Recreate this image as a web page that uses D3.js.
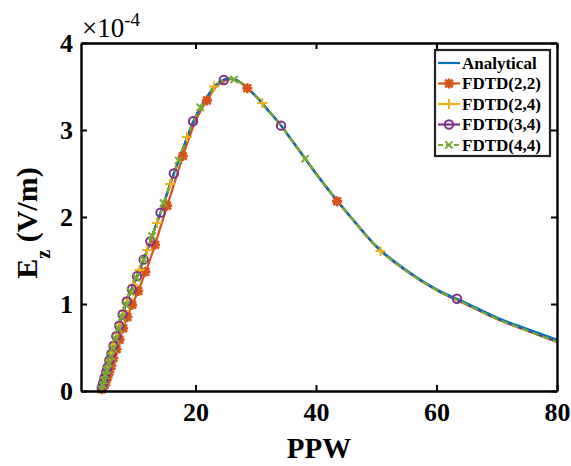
<!DOCTYPE html>
<meta charset="utf-8">
<body style="margin:0;background:#fff">
<script src="https://cdn.jsdelivr.net/npm/d3@7"></script>
<script>

    var W = 571, H = 466,
        m = {top: 43, right: 14, bottom: 75, left: 81},
        w = W - m.left - m.right,
        h = H - m.top - m.bottom;

    // Ez values are in units of 1e-4 V/m
    var ppw = [4.3, 5, 6, 7, 8, 9, 10, 11, 12, 13, 14, 15, 16, 17, 18, 19, 20, 21, 22, 23, 24, 25, 26, 27, 28,
               30, 32, 34, 36, 38, 40, 43, 46, 50, 55, 60, 65, 70, 75, 80];
    var analytical = [0, 0.17, 0.42, 0.66, 0.90, 1.10, 1.27, 1.44, 1.62, 1.82, 2.01, 2.21, 2.42, 2.61, 2.80, 2.99, 3.15, 3.28, 3.39, 3.49, 3.55, 3.585, 3.59, 3.565, 3.52,
                      3.39, 3.23, 3.07, 2.88, 2.69, 2.50, 2.23, 1.98, 1.665, 1.39, 1.17, 1.01, 0.845, 0.715, 0.59];
    var fdtd22 = [0, 0.08, 0.28, 0.50, 0.72, 0.91, 1.07, 1.24, 1.42, 1.62, 1.84, 2.06, 2.28, 2.50, 2.72, 2.92, 3.10, 3.24, 3.35, 3.46, 3.53, 3.57, 3.585, 3.565, 3.52,
                  3.39, 3.23, 3.07, 2.88, 2.69, 2.50, 2.23, 1.98, 1.66, 1.38, 1.16, 0.995, 0.83, 0.695, 0.565];
    var fdtd24 = [0, 0.17, 0.42, 0.66, 0.90, 1.10, 1.27, 1.44, 1.62, 1.82, 2.01, 2.21, 2.42, 2.61, 2.80, 2.99, 3.15, 3.28, 3.39, 3.49, 3.55, 3.585, 3.59, 3.565, 3.52,
                  3.39, 3.23, 3.07, 2.88, 2.69, 2.50, 2.23, 1.98, 1.66, 1.38, 1.16, 0.995, 0.83, 0.695, 0.565];
    var fdtd34 = [0, 0.17, 0.42, 0.66, 0.90, 1.10, 1.27, 1.44, 1.62, 1.82, 2.01, 2.21, 2.42, 2.61, 2.80, 2.99, 3.15, 3.28, 3.39, 3.49, 3.55, 3.585, 3.59, 3.565, 3.52,
                  3.39, 3.23, 3.07, 2.88, 2.69, 2.50, 2.23, 1.98, 1.66, 1.38, 1.16, 0.995, 0.83, 0.695, 0.565];
    var fdtd44 = [0, 0.17, 0.42, 0.66, 0.90, 1.10, 1.27, 1.44, 1.62, 1.82, 2.01, 2.21, 2.42, 2.61, 2.80, 2.99, 3.15, 3.28, 3.39, 3.49, 3.55, 3.585, 3.59, 3.565, 3.52,
                  3.39, 3.23, 3.07, 2.88, 2.69, 2.50, 2.23, 1.98, 1.66, 1.38, 1.16, 0.995, 0.83, 0.695, 0.565];

    // marker positions of each FDTD run
    var mk22x = [43.5, 28.6, 21.9, 17.9, 15.3, 13.3, 11.7, 10.5, 9.5, 8.7, 8.0, 7.4, 6.9, 6.4, 6.05, 5.7, 5.4, 5.1, 4.9, 4.65, 4.45];
    var mk22y = [2.18, 3.48, 3.34, 2.70, 2.13, 1.68, 1.37, 1.15, 0.99, 0.85, 0.72, 0.59, 0.48, 0.38, 0.29, 0.22, 0.16, 0.10, 0.07, 0.04, 0.02];
    var mk24x = [50.7, 31.1, 23.1, 18.6, 15.8, 13.6, 12.0, 10.7, 9.7, 8.8, 8.1, 7.5, 7.0, 6.5, 6.1, 5.8, 5.45, 5.2, 4.9, 4.7, 4.5];
    var mk24y = [1.61, 3.31, 3.50, 2.92, 2.38, 1.93, 1.62, 1.39, 1.22, 1.06, 0.92, 0.78, 0.66, 0.54, 0.44, 0.37, 0.28, 0.22, 0.15, 0.10, 0.05];
    var mk34x = [63.4, 34.2, 24.7, 19.6, 16.4, 14.2, 12.5, 11.4, 10.3, 9.45, 8.6, 7.9, 7.35, 6.85, 6.4, 6.05, 5.7, 5.4, 5.15, 4.9, 4.65, 4.45];
    var mk34y = [1.06, 3.05, 3.575, 3.10, 2.50, 2.05, 1.72, 1.51, 1.32, 1.17, 1.03, 0.88, 0.75, 0.63, 0.52, 0.43, 0.35, 0.27, 0.21, 0.15, 0.09, 0.04];
    var mk44x = [38.2, 26.4, 20.8, 17.2, 14.7, 12.8, 11.4, 10.2, 9.25, 8.5, 7.8, 7.25, 6.75, 6.3, 5.95, 5.6, 5.3, 5.05, 4.8, 4.6, 4.4];
    var mk44y = [2.67, 3.58, 3.26, 2.65, 2.16, 1.78, 1.51, 1.30, 1.14, 0.99, 0.85, 0.72, 0.60, 0.49, 0.40, 0.32, 0.24, 0.18, 0.12, 0.07, 0.02];

    var xTicks = [20, 40, 60, 80],
        yTicks = [0, 1, 2, 3, 4];
    var names = ["Analytical", "FDTD(2,2)", "FDTD(2,4)", "FDTD(3,4)", "FDTD(4,4)"];
    var colors = ["#0072BD", "#D95319", "#EDB120", "#7E2F8E", "#77AC30"];
    var font = "'Liberation Serif', 'Times New Roman', serif";

    var x = d3.scaleLinear().domain([1, 80]).range([0, w]),
        y = d3.scaleLinear().domain([0, 4]).range([h, 0]);

    var svg = d3.select("body").append("svg")
        .attr("width", W)
        .attr("height", H)
        .style("font-family", font)
        .style("font-weight", "bold");

    var g = svg.append("g").attr("transform", "translate(" + m.left + "," + m.top + ")");

    g.append("clipPath").attr("id", "clip")
        .append("rect").attr("x", -8).attr("y", -8).attr("width", w + 8).attr("height", h + 16);

    function zip(xs, ys) { return xs.map(function(v, i) { return [v, ys[i]]; }); }

    var line = d3.line()
        .x(function(d) { return x(d[0]); })
        .y(function(d) { return y(d[1]); })
        .curve(d3.curveMonotoneX);

    var plot = g.append("g").attr("clip-path", "url(#clip)");

    var series = [
        {data: zip(ppw, fdtd22), c: 1},
        {data: zip(ppw, fdtd24), c: 2},
        {data: zip(ppw, fdtd34), c: 3},
        {data: zip(ppw, analytical), c: 0},
        {data: zip(ppw, fdtd44), c: 4, dash: "7,4"}
    ];
    series.forEach(function(s) {
        plot.append("path")
            .attr("d", line(s.data))
            .attr("fill", "none")
            .attr("stroke", colors[s.c])
            .attr("stroke-width", 2.2)
            .attr("stroke-dasharray", s.dash || null);
    });

    // marker shapes
    function marker(sel, type, col) {
        if (type === "o") {
            sel.append("circle").attr("r", 4.2).attr("fill", "none")
                .attr("stroke", col).attr("stroke-width", 2);
        } else {
            var p = "";
            var a = type === "x" ? 3.6 : 5;
            if (type === "+" || type === "*") p += "M" + (-a) + ",0H" + a + "M0," + (-a) + "V" + a;
            if (type === "x" || type === "*") {
                var b = type === "*" ? 3.8 : a;
                p += "M" + (-b) + "," + (-b) + "L" + b + "," + b + "M" + (-b) + "," + b + "L" + b + "," + (-b);
            }
            sel.append("path").attr("d", p).attr("fill", "none")
                .attr("stroke", col).attr("stroke-width", type === "*" ? 2.6 : 2);
        }
    }

    var marks = [
        {xs: mk22x, ys: mk22y, t: "*", c: 1},
        {xs: mk24x, ys: mk24y, t: "+", c: 2},
        {xs: mk34x, ys: mk34y, t: "o", c: 3},
        {xs: mk44x, ys: mk44y, t: "x", c: 4}
    ];
    marks.forEach(function(s) {
        zip(s.xs, s.ys).forEach(function(d) {
            var mg = plot.append("g").attr("transform", "translate(" + x(d[0]) + "," + y(d[1]) + ")");
            marker(mg, s.t, colors[s.c]);
        });
    });

    // axes box with inward ticks on all sides
    var tl = 6;
    var axB = g.append("g").attr("transform", "translate(0," + h + ")")
        .call(d3.axisBottom(x).tickValues(xTicks).tickSizeInner(-tl).tickSizeOuter(0).tickPadding(12));
    var axT = g.append("g")
        .call(d3.axisTop(x).tickValues(xTicks).tickSizeInner(-tl).tickSizeOuter(0).tickFormat(""));
    var axL = g.append("g")
        .call(d3.axisLeft(y).tickValues(yTicks).tickSizeInner(-tl).tickSizeOuter(0).tickPadding(8).tickFormat(d3.format("d")));
    var axR = g.append("g").attr("transform", "translate(" + w + ",0)")
        .call(d3.axisRight(y).tickValues(yTicks).tickSizeInner(-tl).tickSizeOuter(0).tickFormat(""));
    [axB, axT, axL, axR].forEach(function(a) {
        a.selectAll("path.domain").attr("stroke", "#000").attr("stroke-width", 2.4);
        a.selectAll(".tick line").attr("stroke", "#000").attr("stroke-width", 2);
        a.selectAll("text").attr("fill", "#000")
            .style("font-family", font).style("font-weight", "bold").style("font-size", "26px");
    });

    // axis labels
    svg.append("text")
        .attr("x", m.left + w / 2).attr("y", 458)
        .attr("text-anchor", "middle")
        .style("font-size", "29px")
        .text("PPW");

    var yl = svg.append("text")
        .attr("transform", "translate(37,223) rotate(-90)")
        .attr("text-anchor", "middle")
        .style("font-size", "30px");
    yl.append("tspan").text("E");
    yl.append("tspan").attr("dy", 13).style("font-size", "20px").text("z");
    yl.append("tspan").attr("dy", -13).text(" (V/m)");

    var ex = svg.append("text")
        .attr("x", m.left + 1).attr("y", 37)
        .style("font-size", "27px")
        .style("font-weight", "normal");
    ex.append("tspan").text("\u00d710");
    ex.append("tspan").attr("dy", -11).style("font-size", "19px").text("-4");

    // legend
    var lg = svg.append("g").attr("transform", "translate(435,50)");
    lg.append("rect").attr("width", 115).attr("height", 106)
        .attr("fill", "#fff").attr("stroke", "#222").attr("stroke-width", 2.2);
    var types = [null, "*", "+", "o", "x"];
    names.forEach(function(n, i) {
        var row = lg.append("g").attr("transform", "translate(0," + (13 + i * 20.5) + ")");
        row.append("line").attr("x1", 3).attr("x2", 25)
            .attr("stroke", colors[i]).attr("stroke-width", 2.2)
            .attr("stroke-dasharray", i === 4 ? "5,3" : null);
        if (types[i]) marker(row.append("g").attr("transform", "translate(14,0)"), types[i], colors[i]);
        row.append("text").attr("x", 27).attr("dy", "0.35em")
            .style("font-size", "17px").text(n);
    });

</script>
